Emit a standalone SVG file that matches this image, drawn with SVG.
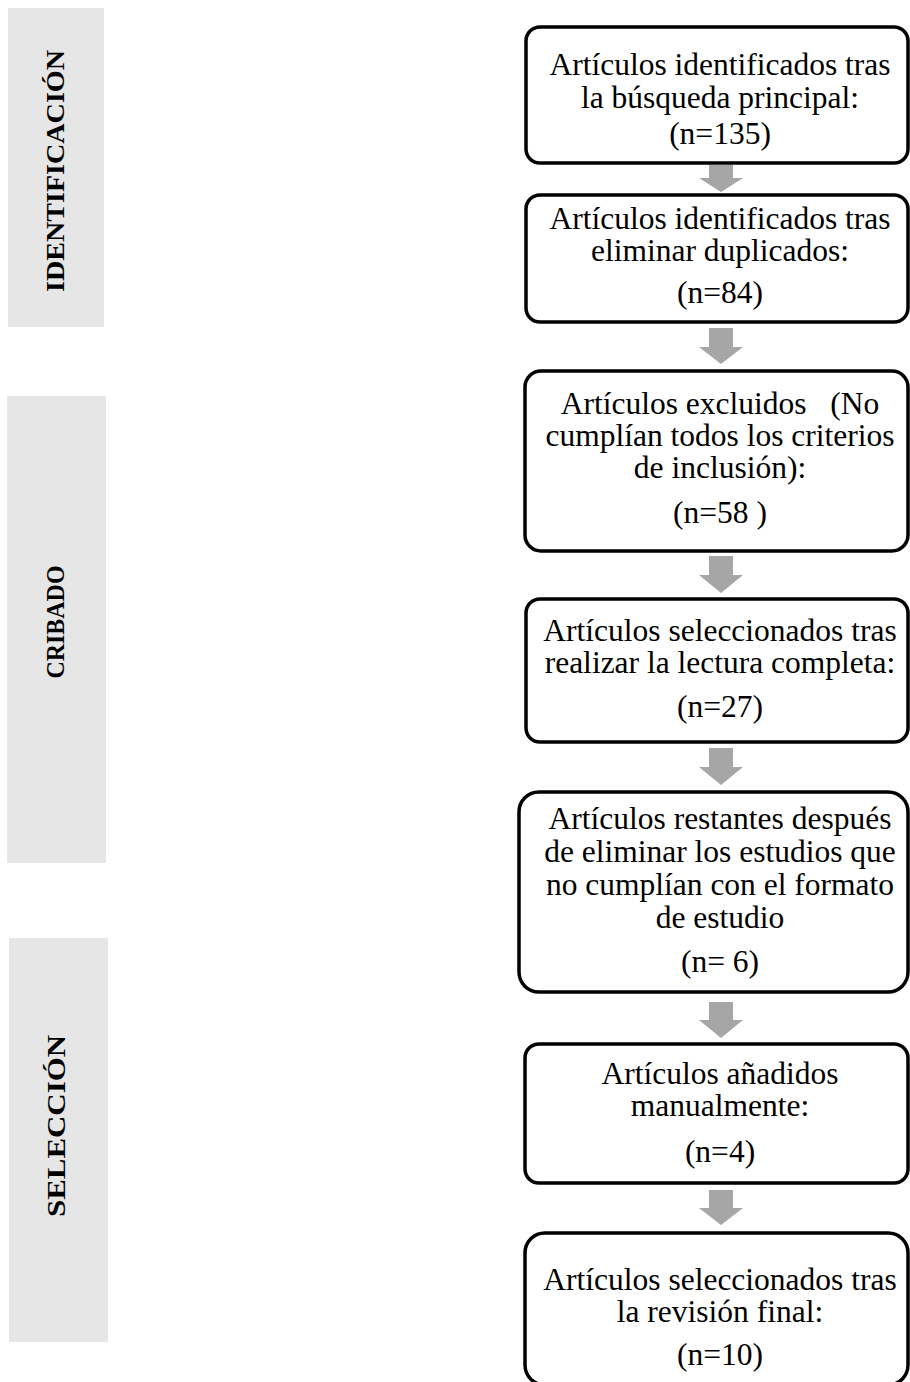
<svg xmlns="http://www.w3.org/2000/svg" width="910" height="1382" viewBox="0 0 910 1382">
<style>
.panel{fill:#E6E6E6;}
.plabel{font-family:"Liberation Serif","Times New Roman",serif;font-weight:bold;font-size:25px;fill:#000;text-anchor:middle;}
.box{fill:#fff;stroke:#000;stroke-width:3.5;}
.t{font-family:"Liberation Serif","Times New Roman",serif;font-size:31.5px;fill:#000;text-anchor:middle;white-space:pre;}
.arrow{fill:#A6A6A6;}
</style>
<rect width="910" height="1382" fill="#fff"/>
<g id="phase-identificacion">
<rect class="panel" x="8" y="8" width="96" height="319"/>
<text class="plabel" transform="translate(64,171) rotate(-90)" textLength="242" lengthAdjust="spacingAndGlyphs">IDENTIFICACIÓN</text>
</g>
<g id="phase-cribado">
<rect class="panel" x="7" y="396" width="99" height="467"/>
<text class="plabel" transform="translate(64,622) rotate(-90)" textLength="113" lengthAdjust="spacingAndGlyphs">CRIBADO</text>
</g>
<g id="phase-seleccion">
<rect class="panel" x="9" y="938" width="99" height="404"/>
<text class="plabel" transform="translate(65,1126) rotate(-90)" textLength="182" lengthAdjust="spacingAndGlyphs">SELECCIÓN</text>
</g>
<g id="connectors">
<polygon class="arrow" points="709,165 733,165 733,178 743,178 721,192 699,178 709,178"/>
<polygon class="arrow" points="709,328 733,328 733,347 743,347 721,364 699,347 709,347"/>
<polygon class="arrow" points="709,556 733,556 733,575 743,575 721,593 699,575 709,575"/>
<polygon class="arrow" points="709,748 733,748 733,767 743,767 721,785 699,767 709,767"/>
<polygon class="arrow" points="709,1002 733,1002 733,1020 743,1020 721,1038 699,1020 709,1020"/>
<polygon class="arrow" points="709,1190 733,1190 733,1208 743,1208 721,1225 699,1208 709,1208"/>
</g>
<g id="box1">
<rect class="box" x="526" y="27" width="382" height="136" rx="14"/>
<text class="t" x="720" y="75">Artículos identificados tras</text>
<text class="t" x="720" y="108">la búsqueda principal:</text>
<text class="t" x="720" y="144">(n=135)</text>
</g>
<g id="box2">
<rect class="box" x="526" y="195" width="382" height="127" rx="14"/>
<text class="t" x="720" y="229">Artículos identificados tras</text>
<text class="t" x="720" y="261">eliminar duplicados:</text>
<text class="t" x="720" y="303">(n=84)</text>
</g>
<g id="box3">
<rect class="box" x="525" y="371" width="383" height="180" rx="16"/>
<text class="t" x="720" y="414">Artículos excluidos   (No</text>
<text class="t" x="720" y="446">cumplían todos los criterios</text>
<text class="t" x="720" y="478">de inclusión):</text>
<text class="t" x="720" y="523">(n=58 )</text>
</g>
<g id="box4">
<rect class="box" x="526" y="599" width="382" height="143" rx="14"/>
<text class="t" x="720" y="641">Artículos seleccionados tras</text>
<text class="t" x="720" y="673">realizar la lectura completa:</text>
<text class="t" x="720" y="717">(n=27)</text>
</g>
<g id="box5">
<rect class="box" x="519" y="792" width="389" height="200" rx="20"/>
<text class="t" x="720" y="829">Artículos restantes después</text>
<text class="t" x="720" y="862">de eliminar los estudios que</text>
<text class="t" x="720" y="895">no cumplían con el formato</text>
<text class="t" x="720" y="928">de estudio</text>
<text class="t" x="720" y="972">(n= 6)</text>
</g>
<g id="box6">
<rect class="box" x="525" y="1044" width="383" height="139" rx="14"/>
<text class="t" x="720" y="1084">Artículos añadidos</text>
<text class="t" x="720" y="1116">manualmente:</text>
<text class="t" x="720" y="1162">(n=4)</text>
</g>
<g id="box7">
<rect class="box" x="525" y="1233" width="383" height="152" rx="20"/>
<text class="t" x="720" y="1290">Artículos seleccionados tras</text>
<text class="t" x="720" y="1322">la revisión final:</text>
<text class="t" x="720" y="1365">(n=10)</text>
</g>
</svg>
